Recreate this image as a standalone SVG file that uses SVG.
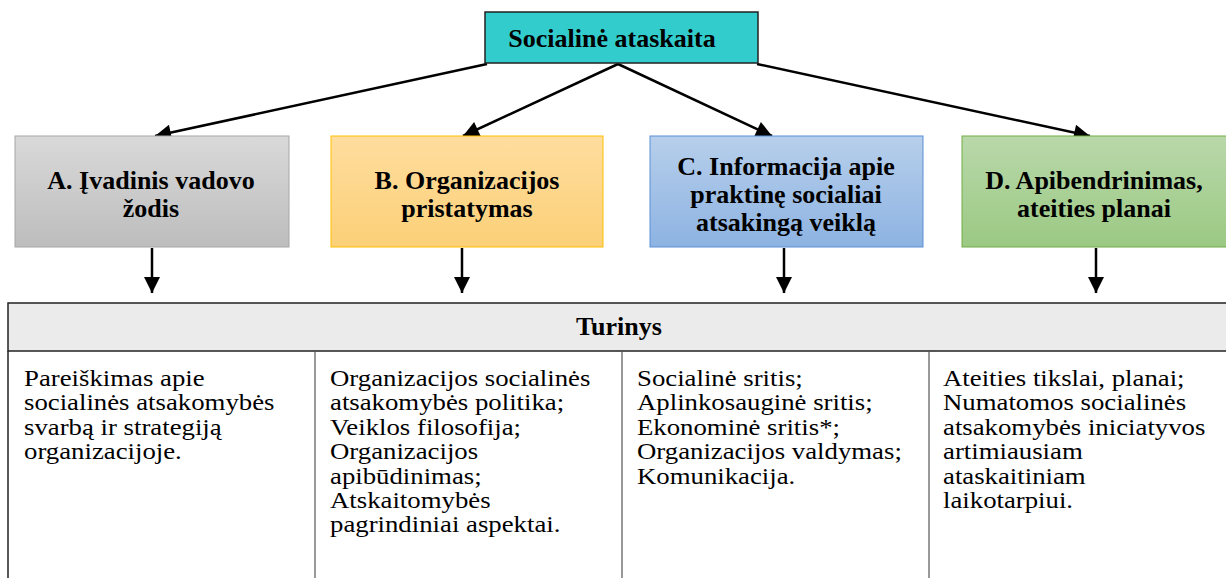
<svg xmlns="http://www.w3.org/2000/svg" width="1226" height="578" viewBox="0 0 1226 578">
<defs>
<linearGradient id="gA" x1="0" y1="0" x2="0" y2="1"><stop offset="0" stop-color="#d9d9d9"/><stop offset="1" stop-color="#bdbdbd"/></linearGradient>
<linearGradient id="gB" x1="0" y1="0" x2="0" y2="1"><stop offset="0" stop-color="#fedd9e"/><stop offset="1" stop-color="#fcd078"/></linearGradient>
<linearGradient id="gC" x1="0" y1="0" x2="0" y2="1"><stop offset="0" stop-color="#b7cfeb"/><stop offset="1" stop-color="#8db3e2"/></linearGradient>
<linearGradient id="gD" x1="0" y1="0" x2="0" y2="1"><stop offset="0" stop-color="#b9d8aa"/><stop offset="1" stop-color="#9bc983"/></linearGradient>
<marker id="ah" viewBox="0 0 10 10" refX="10" refY="5" markerWidth="7" markerHeight="6.4" markerUnits="strokeWidth" orient="auto"><path d="M0,0 L10,5 L0,10 z" fill="#000"/></marker>
</defs>
<style>
.t{font-family:"Liberation Serif","Times New Roman",serif;fill:#000}
.b{font-weight:bold;font-size:26px;text-anchor:middle}
.r{font-size:22.5px}
.c{stroke:#000;stroke-width:2.5;fill:none;marker-end:url(#ah)}
</style>
<rect width="1226" height="578" fill="#fff"/>
<g id="connectors">
<line class="c" x1="487" y1="64" x2="155" y2="136"/>
<line class="c" x1="618" y1="64" x2="463" y2="136"/>
<line class="c" x1="618" y1="64" x2="772" y2="136"/>
<line class="c" x1="757" y1="64" x2="1090" y2="136"/>
<line class="c" x1="152" y1="248" x2="152" y2="293"/>
<line class="c" x1="462" y1="248" x2="462" y2="293"/>
<line class="c" x1="784" y1="248" x2="784" y2="293"/>
<line class="c" x1="1096" y1="248" x2="1096" y2="293"/>
</g>
<g id="root">
<rect x="485" y="12" width="273" height="51" fill="#33cccc" stroke="#222" stroke-width="1.5"/>
<text class="t b" x="612" y="47">Socialinė ataskaita</text>
</g>
<g id="nodeA">
<rect x="15" y="136" width="274" height="111" fill="url(#gA)" stroke="#a6a6a6" stroke-width="1"/>
<text class="t b" x="151" y="189">A. Įvadinis vadovo</text>
<text class="t b" x="151" y="217">žodis</text>
</g>
<g id="nodeB">
<rect x="331" y="136" width="272" height="111" fill="url(#gB)" stroke="#ffc000" stroke-width="1"/>
<text class="t b" x="467" y="189">B. Organizacijos</text>
<text class="t b" x="467" y="217">pristatymas</text>
</g>
<g id="nodeC">
<rect x="650" y="136" width="273" height="111" fill="url(#gC)" stroke="#5b8fd6" stroke-width="1"/>
<text class="t b" x="786" y="175">C. Informacija apie</text>
<text class="t b" x="786" y="203">praktinę socialiai</text>
<text class="t b" x="786" y="231">atsakingą veiklą</text>
</g>
<g id="nodeD">
<rect x="962" y="136" width="270" height="111" fill="url(#gD)" stroke="#70ad47" stroke-width="1"/>
<text class="t b" x="1094" y="189">D. Apibendrinimas,</text>
<text class="t b" x="1094" y="217">ateities planai</text>
</g>
<g id="table">
<rect x="8" y="303" width="1230" height="48" fill="#ebebeb" stroke="#222" stroke-width="1.5"/>
<line x1="8" y1="351" x2="8" y2="580" stroke="#222" stroke-width="1.5"/>
<line x1="315" y1="351" x2="315" y2="580" stroke="#555" stroke-width="1.2"/>
<line x1="622" y1="351" x2="622" y2="580" stroke="#555" stroke-width="1.2"/>
<line x1="929" y1="351" x2="929" y2="580" stroke="#555" stroke-width="1.2"/>
<text class="t b" x="619" y="335">Turinys</text>
<g transform="translate(24,0) scale(1.19,1)">
<text class="t r" x="0" y="386">Pareiškimas apie</text>
<text class="t r" x="0" y="410">socialinės atsakomybės</text>
<text class="t r" x="0" y="435">svarbą ir strategiją</text>
<text class="t r" x="0" y="459">organizacijoje.</text>
</g>
<g transform="translate(330,0) scale(1.19,1)">
<text class="t r" x="0" y="386">Organizacijos socialinės</text>
<text class="t r" x="0" y="410">atsakomybės politika;</text>
<text class="t r" x="0" y="435">Veiklos filosofija;</text>
<text class="t r" x="0" y="459">Organizacijos</text>
<text class="t r" x="0" y="484">apibūdinimas;</text>
<text class="t r" x="0" y="508">Atskaitomybės</text>
<text class="t r" x="0" y="532">pagrindiniai aspektai.</text>
</g>
<g transform="translate(637,0) scale(1.19,1)">
<text class="t r" x="0" y="386">Socialinė sritis;</text>
<text class="t r" x="0" y="410">Aplinkosauginė sritis;</text>
<text class="t r" x="0" y="435">Ekonominė sritis*;</text>
<text class="t r" x="0" y="459">Organizacijos valdymas;</text>
<text class="t r" x="0" y="484">Komunikacija.</text>
</g>
<g transform="translate(943,0) scale(1.19,1)">
<text class="t r" x="0" y="386">Ateities tikslai, planai;</text>
<text class="t r" x="0" y="410">Numatomos socialinės</text>
<text class="t r" x="0" y="435">atsakomybės iniciatyvos</text>
<text class="t r" x="0" y="459">artimiausiam</text>
<text class="t r" x="0" y="484">ataskaitiniam</text>
<text class="t r" x="0" y="508">laikotarpiui.</text>
</g>
</g>
</svg>
